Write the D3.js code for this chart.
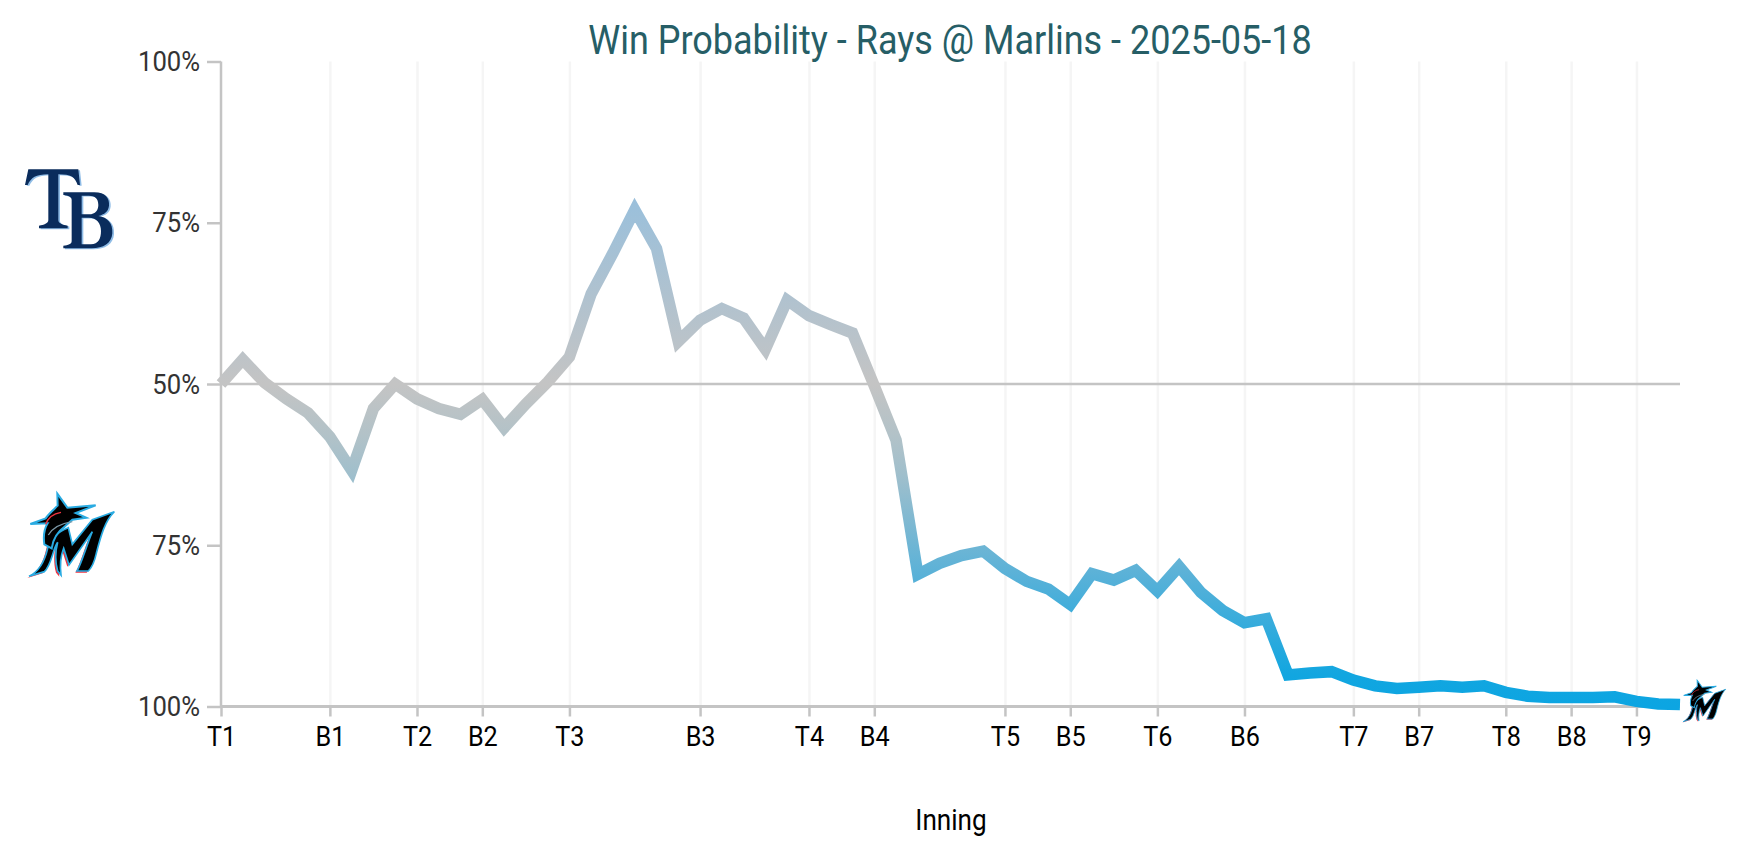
<!DOCTYPE html>
<html>
<head>
<meta charset="utf-8">
<script src="https://cdn.jsdelivr.net/npm/d3@7"></script>
<style>
  body { margin: 0; background: #fff; }
  text { font-family: Roboto, sans-serif; }
</style>
</head>
<body>
<div id="chart"></div>
<script>
// rays win probability, one value per play
var rayWinPct = [50, 53.8, 50.2, 47.7, 45.5, 41.8, 36.6, 46.2, 50, 47.7, 46.2, 45.3, 47.6, 43.2, 46.9, 50.3, 54.2,
    64, 70.3, 77, 71, 56.6, 59.9, 61.7, 60.2, 55.4, 63, 60.6, 59.2, 57.9, 49.7, 41.3, 20.5, 22.2, 23.4, 24.1,
    21.4, 19.4, 18.2, 15.8, 20.6, 19.6, 21.1, 17.9, 21.7, 17.7, 14.9, 13, 13.6, 4.9, 5.2, 5.4, 4.1, 3.2, 2.8, 3.0,
    3.2, 3.0, 3.2, 2.2, 1.6, 1.4, 1.4, 1.4, 1.5, 0.8, 0.4, 0.3];
var inningLabels = ["T1", "B1", "T2", "B2", "T3", "B3", "T4", "B4", "T5", "B5", "T6", "B6", "T7", "B7", "T8", "B8", "T9"];
var inningIndex = [0, 5, 9, 12, 16, 22, 27, 30, 36, 39, 43, 47, 52, 55, 59, 62, 65];
var yTicks = [0, 25, 50, 75, 100];
var gradientValues = [100, 77, 50, 42, 36, 20, 5, 0];
var gradientColors = ["#8cbce4", "#9cc0da", "#c4c4c4", "#b2c2c8", "#a0bfcc", "#58b1d8", "#12a6e0", "#0ca5e2"];

var svgWidth = 1754, svgHeight = 856;
var margin = { top: 61.5, bottom: 149.5, right: 74, left: 221 };
var width = svgWidth - margin.left - margin.right;
var height = svgHeight - margin.top - margin.bottom;
var axisColor = "#c4c4c4";

var svg = d3.select("#chart").append("svg")
    .attr("width", svgWidth)
    .attr("height", svgHeight)
    .style("display", "block");
var chartGroup = svg.append("g")
    .attr("transform", `translate(${margin.left}, ${margin.top})`);

var xScale = d3.scaleLinear().domain([0, rayWinPct.length - 1]).range([0, width]);
var yScale = d3.scaleLinear().domain([0, 100]).range([height, 0]);

// no condensed font here, so squeeze the glyphs
function condense(sel, factor) {
    sel.each(function () {
        this.setAttribute("lengthAdjust", "spacingAndGlyphs");
        this.setAttribute("textLength", this.getComputedTextLength() * factor);
    });
}

// vertical gradient, colour follows the value (user space of chartGroup)
var gradient = svg.append("defs").append("linearGradient")
    .attr("id", "wpGradient")
    .attr("gradientUnits", "userSpaceOnUse")
    .attr("x1", 0).attr("x2", 0)
    .attr("y1", yScale(100)).attr("y2", yScale(0));
gradient.selectAll("stop").data(gradientValues).enter().append("stop")
    .attr("offset", d => (100 - d) + "%")
    .attr("stop-color", (d, i) => gradientColors[i]);

// vertical grid
var gridAxis = d3.axisBottom(xScale).tickValues(inningIndex.slice(1)).tickSize(-height).tickFormat("");
var gridGroup = chartGroup.append("g").attr("transform", `translate(0, ${height})`).call(gridAxis);
gridGroup.select(".domain").remove();
gridGroup.selectAll("line").attr("stroke", "#f5f5f5").attr("stroke-width", 2.5);

// 50% rule
chartGroup.append("line")
    .attr("x1", 0).attr("x2", width)
    .attr("y1", yScale(50)).attr("y2", yScale(50))
    .attr("stroke", axisColor).attr("stroke-width", 2.5);

// axes
var leftAxis = d3.axisLeft(yScale).tickValues(yTicks).tickSize(14).tickPadding(7)
    .tickFormat(d => Math.max(d, 100 - d) + "%");
var yGroup = chartGroup.append("g").call(leftAxis);
yGroup.select(".domain").attr("stroke", axisColor).attr("stroke-width", 2.5).attr("d", `M0,0V${height}`);
yGroup.selectAll("line").attr("stroke", axisColor).attr("stroke-width", 2.5);
yGroup.selectAll("text").attr("font-size", 28.5).attr("fill", "#333").call(condense, 0.9);

var bottomAxis = d3.axisBottom(xScale).tickValues(inningIndex).tickSize(10).tickPadding(10)
    .tickFormat((d, i) => inningLabels[i]);
var xGroup = chartGroup.append("g").attr("transform", `translate(0, ${height})`).call(bottomAxis);
xGroup.select(".domain").attr("stroke", axisColor).attr("stroke-width", 3).attr("d", `M0,0H${width}`);
xGroup.selectAll("line").attr("stroke", axisColor).attr("stroke-width", 2.5);
xGroup.selectAll("text").attr("font-size", 28).attr("fill", "#000").call(condense, 0.9);

// win probability line
var line = d3.line().x((d, i) => xScale(i)).y(d => yScale(d));
chartGroup.append("path")
    .datum(rayWinPct)
    .attr("d", line)
    .attr("fill", "none")
    .attr("stroke", "url(#wpGradient)")
    .attr("stroke-width", 11.5)
    .attr("stroke-linejoin", "miter");

// title and axis label
svg.append("text")
    .attr("x", 950).attr("y", 54)
    .attr("text-anchor", "middle")
    .attr("font-size", 40)
    .attr("fill", "#265e66")
    .text("Win Probability - Rays @ Marlins - 2025-05-18")
    .call(condense, 0.9);
svg.append("text")
    .attr("x", 951).attr("y", 830)
    .attr("text-anchor", "middle")
    .attr("font-size", 29)
    .attr("fill", "#000")
    .text("Inning")
    .call(condense, 0.9);

// logos, traced by hand
var tPath = "M40,43 L190,43 L195,90 L188,90 C180,66 168,58 130,58 L130,195 C130,205 143,210 158,212 L158,220 L72,220 L72,212 C87,210 100,205 100,195 L100,58 C62,58 48,68 38,90 L30,90 Z";
var bPath = "M145,112 L238,112 C272,112 284,130 282,152 C280,170 268,178 250,183 C278,187 294,205 292,235 C290,265 265,280 230,280 L145,280 L145,272 C160,270 170,268 170,258 L170,135 C170,125 160,122 145,120 Z"
    + " M200,122 L200,178 L222,178 C242,178 250,165 250,150 C250,130 240,122 222,122 Z"
    + " M200,188 L200,268 L228,268 C250,268 258,250 258,228 C258,205 245,188 222,188 Z";
var rays = svg.append("g").attr("transform", "translate(15, 155) scale(0.3333)");
[[tPath, "#8fbce6", 5], [tPath, "#0a2c5c", 0], [bPath, "#8fbce6", 5], [bPath, "#0a2c5c", 0]].forEach(function (p) {
    rays.append("path").attr("d", p[0]).attr("fill", p[1]).attr("fill-rule", "evenodd")
        .attr("transform", `translate(${p[2]}, ${p[2] / 2})`);
});

var marlinHead = "M127,26 L157,68 L242,61 L182,84 L214,98 L172,104 L150,124 C128,140 114,160 110,190 L88,178 C84,150 90,128 98,115 L46,117 L92,100 C102,85 118,72 128,62 Z";
var marlinM = "M160,128 L172,178 L232,104 L298,80 C270,108 258,150 244,205 C238,232 228,250 220,258 L186,258 C200,235 215,180 232,140 L162,240 L146,190 C136,215 135,245 138,270 L128,258 C120,230 122,195 128,172 C112,195 110,240 88,260 L42,274 C75,258 90,225 98,190 C104,160 130,140 160,128 Z";
function drawMarlin(transform) {
    var g = svg.append("g").attr("transform", transform);
    g.append("path").attr("d", marlinM).attr("fill", "#ef3340").attr("transform", "translate(-5, 5)");
    g.append("path").attr("d", marlinM).attr("fill", "#000").attr("stroke", "#29abe2").attr("stroke-width", 5);
    g.append("path").attr("d", marlinHead).attr("fill", "#000").attr("stroke", "#29abe2").attr("stroke-width", 6);
    g.append("path").attr("d", "M92,118 C100,95 120,85 138,82").attr("fill", "none").attr("stroke", "#ef3340").attr("stroke-width", 4);
    g.append("path").attr("d", "M100,150 C115,125 140,115 172,110").attr("fill", "none").attr("stroke", "#7d9aa8").attr("stroke-width", 4);
}
drawMarlin("translate(15, 485) scale(0.3333)");
drawMarlin("translate(1676, 676) scale(0.1667)");
</script>
</body>
</html>
